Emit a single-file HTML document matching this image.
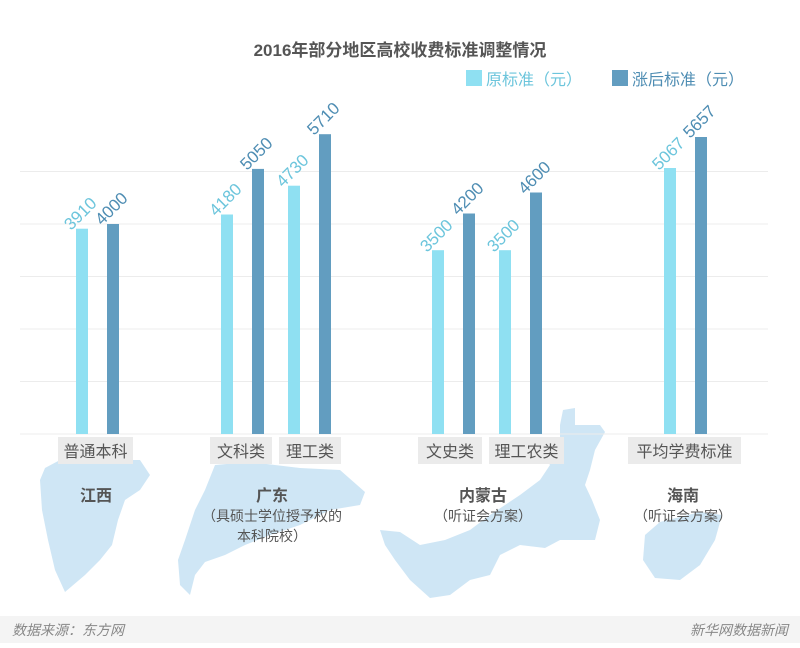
<!DOCTYPE html>
<html><head><meta charset="utf-8"><style>
body{margin:0;width:800px;height:643px;overflow:hidden;background:#fff}
svg text{font-family:"Liberation Sans","Noto Sans CJK SC",sans-serif}
</style></head><body>
<svg width="800" height="643" viewBox="0 0 800 643">
<g fill="#cfe6f5">
<polygon points="45,468 60,460 140,460 150,475 140,490 125,500 118,520 112,545 100,560 85,575 65,592 55,570 48,540 42,510 40,480"/>
<polygon points="215,465 250,462 300,468 340,470 365,492 360,505 330,510 300,525 270,535 245,545 225,555 205,562 195,575 190,595 180,585 178,560 185,540 195,510 205,490"/>
<polygon points="563,410 575,408 575,425 600,425 605,432 595,450 590,470 585,485 592,500 600,520 595,540 560,540 545,548 520,545 500,555 490,575 470,580 450,595 430,598 410,580 395,560 385,545 380,530 400,532 420,545 445,540 470,530 490,515 520,495 540,480 550,465 540,450 560,440 560,425"/>
<polygon points="660,522 700,512 722,515 715,540 700,565 680,580 655,578 643,560 645,535"/>
</g>
<g stroke="#ececec" stroke-width="1">
<line x1="20" x2="768" y1="171.5" y2="171.5"/><line x1="20" x2="768" y1="224" y2="224"/>
<line x1="20" x2="768" y1="276.5" y2="276.5"/><line x1="20" x2="768" y1="329" y2="329"/>
<line x1="20" x2="768" y1="381.5" y2="381.5"/><line x1="20" x2="768" y1="434" y2="434"/>
</g>
<text x="400" y="56" text-anchor="middle" font-size="17" font-weight="bold" fill="#555">2016年部分地区高校收费标准调整情况</text>
<rect x="466" y="70" width="16" height="16" fill="#8fe0f2"/>
<text x="486" y="85" font-size="16" fill="#6cc5dc">原标准（元）</text>
<rect x="612" y="70" width="16" height="16" fill="#629dc0"/>
<text x="632" y="85" font-size="16" fill="#4e8db3">涨后标准（元）</text>
<g>
<rect x="76" y="228.7" width="12" height="205.3" fill="#8fe0f2"/>
<rect x="107" y="224" width="12" height="210" fill="#629dc0"/>
<rect x="221" y="214.5" width="12" height="219.5" fill="#8fe0f2"/>
<rect x="252" y="168.9" width="12" height="265.1" fill="#629dc0"/>
<rect x="288" y="185.7" width="12" height="248.3" fill="#8fe0f2"/>
<rect x="319" y="134.2" width="12" height="299.8" fill="#629dc0"/>
<rect x="432" y="250.2" width="12" height="183.8" fill="#8fe0f2"/>
<rect x="463" y="213.5" width="12" height="220.5" fill="#629dc0"/>
<rect x="499" y="250.2" width="12" height="183.8" fill="#8fe0f2"/>
<rect x="530" y="192.5" width="12" height="241.5" fill="#629dc0"/>
<rect x="664" y="168" width="12" height="266" fill="#8fe0f2"/>
<rect x="695" y="137" width="12" height="297" fill="#629dc0"/>
</g>
<g font-size="17">
<text transform="translate(71,231) rotate(-45)" fill="#6cc5dc">3910</text>
<text transform="translate(102,226) rotate(-45)" fill="#4e8db3">4000</text>
<text transform="translate(216,217) rotate(-45)" fill="#6cc5dc">4180</text>
<text transform="translate(247,171) rotate(-45)" fill="#4e8db3">5050</text>
<text transform="translate(283,188) rotate(-45)" fill="#6cc5dc">4730</text>
<text transform="translate(314,136) rotate(-45)" fill="#4e8db3">5710</text>
<text transform="translate(427,253) rotate(-45)" fill="#6cc5dc">3500</text>
<text transform="translate(458,216) rotate(-45)" fill="#4e8db3">4200</text>
<text transform="translate(494,253) rotate(-45)" fill="#6cc5dc">3500</text>
<text transform="translate(525,195) rotate(-45)" fill="#4e8db3">4600</text>
<text transform="translate(659,171) rotate(-45)" fill="#6cc5dc">5067</text>
<text transform="translate(690,139) rotate(-45)" fill="#4e8db3">5657</text>
</g>
<g fill="#ebebeb">
<rect x="58" y="437" width="75" height="27"/><rect x="210" y="437" width="62" height="27"/>
<rect x="279" y="437" width="62" height="27"/><rect x="418" y="437" width="64" height="27"/>
<rect x="489" y="437" width="75" height="27"/><rect x="628" y="437" width="113" height="27"/>
</g>
<g font-size="16" fill="#555" text-anchor="middle">
<text x="95.5" y="457">普通本科</text><text x="241" y="457">文科类</text><text x="310" y="457">理工类</text>
<text x="450" y="457">文史类</text><text x="526.5" y="457">理工农类</text><text x="684.5" y="457">平均学费标准</text>
<g font-weight="bold"><text x="96" y="501">江西</text><text x="272" y="501">广东</text><text x="483" y="501">内蒙古</text><text x="683" y="501">海南</text></g>
<g font-size="14"><text x="272" y="521">（具硕士学位授予权的</text><text x="272" y="541">本科院校）</text>
<text x="483" y="521">（听证会方案）</text><text x="683" y="521">（听证会方案）</text></g>
</g>
<rect x="0" y="616" width="800" height="27" fill="#f4f4f4"/>
<text x="12" y="635" font-size="14" font-style="italic" fill="#888">数据来源：东方网</text>
<text x="788" y="635" font-size="14" font-style="italic" fill="#888" text-anchor="end">新华网数据新闻</text>
</svg>
</body></html>
